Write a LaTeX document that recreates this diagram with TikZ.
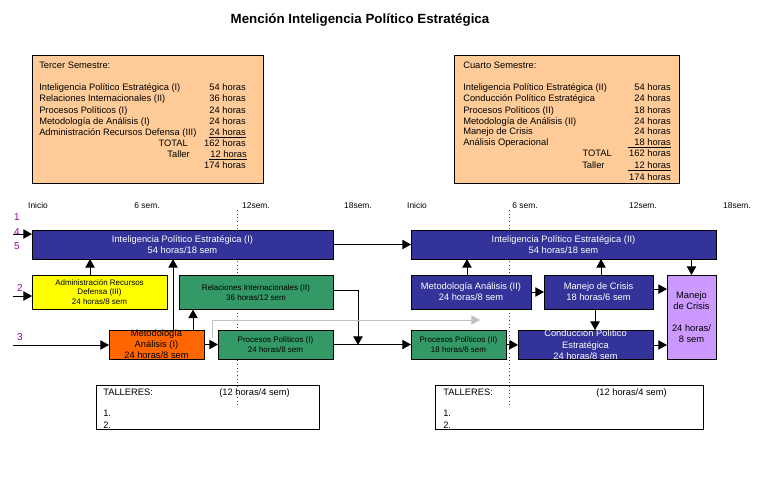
\documentclass[tikz,border=0pt]{standalone}
\usepackage{fontspec}
\setmainfont{Liberation Sans}
\usetikzlibrary{arrows.meta}
\definecolor{navy}{RGB}{51,51,153}
\definecolor{grass}{RGB}{51,153,102}
\definecolor{tangerine}{RGB}{255,102,0}
\definecolor{lemon}{RGB}{255,255,0}
\definecolor{lilac}{RGB}{204,153,255}
\definecolor{peach}{RGB}{255,204,153}
\definecolor{plum}{RGB}{153,0,153}
\definecolor{wine}{RGB}{140,30,90}
\definecolor{silver}{RGB}{192,192,192}

\begin{document}
\begin{tikzpicture}[x=0.75pt,y=-0.75pt,
    box/.style={draw=black,line width=0.75pt,inner sep=0pt,outer sep=0pt,align=center},
    bluebox/.style={box,fill=navy,text=white,font=\fontsize{7}{8.25}\selectfont},
    greenbox/.style={box,fill=grass,font=\fontsize{6}{7.2}\selectfont},
    txt/.style={inner sep=0pt,font=\fontsize{7}{8.25}\selectfont},
    small/.style={inner sep=0pt,anchor=base,font=\fontsize{6.3}{7}\selectfont},
    num/.style={inner sep=0pt,text=plum,font=\fontsize{7.5}{8}\selectfont},
    arr/.style={-{Triangle[length=6.5pt,width=7pt]},line width=0.75pt},
    dotline/.style={wine,line width=0.75pt,dotted}]
    \useasboundingbox (0,0) rectangle (767,479);

    % Title
    \node[inner sep=0pt,font=\bfseries\fontsize{10}{12}\selectfont] (title) at (360,20) {Mención Inteligencia Político Estratégica};

    % Tercer semestre
    \node[box,fill=peach,minimum width=173.25pt,minimum height=96pt] (sem3) at (147.5,119) {};
    \node[txt,anchor=base west] (s3head) at (39,68) {Tercer Semestre:};
    \node[txt,anchor=base west] (s3a) at (39,90) {Inteligencia Político Estratégica (I)};
    \node[txt,anchor=base west] (s3b) at (39,101) {Relaciones Internacionales (II)};
    \node[txt,anchor=base west] (s3c) at (39,113) {Procesos Políticos (I)};
    \node[txt,anchor=base west] (s3d) at (39,124) {Metodología de Análisis (I)};
    \node[txt,anchor=base west] (s3e) at (39,135) {Administración Recursos Defensa (III)};
    \node[txt,anchor=base east] (s3ha) at (246,90) {54 horas};
    \node[txt,anchor=base east] (s3hb) at (246,101) {36 horas};
    \node[txt,anchor=base east] (s3hc) at (246,113) {24 horas};
    \node[txt,anchor=base east] (s3hd) at (246,124) {24 horas};
    \node[txt,anchor=base east] (s3he) at (246,135) {\underline{24 horas}};
    \node[txt,anchor=base east] (s3total) at (188,146) {TOTAL};
    \node[txt,anchor=base east] (s3hf) at (246,146) {162 horas};
    \node[txt,anchor=base east] (s3taller) at (190,157) {Taller};
    \node[txt,anchor=base east] (s3hg) at (247,157) {\underline{\makebox[28.5pt][r]{12 horas}}};
    \node[txt,anchor=base east] (s3hh) at (246,168) {174 horas};

    % Cuarto semestre
    \node[box,fill=peach,minimum width=168.75pt,minimum height=96pt] (sem4) at (566.5,119) {};
    \node[txt,anchor=base west] (s4head) at (463,68) {Cuarto Semestre:};
    \node[txt,anchor=base west] (s4a) at (463,90) {Inteligencia Político Estratégica (II)};
    \node[txt,anchor=base west] (s4b) at (463,101) {Conducción Político Estratégica};
    \node[txt,anchor=base west] (s4c) at (463,113) {Procesos Políticos (II)};
    \node[txt,anchor=base west] (s4d) at (463,124) {Metodología de Análisis (II)};
    \node[txt,anchor=base west] (s4e) at (463,134) {Manejo de Crisis};
    \node[txt,anchor=base west] (s4f) at (463,145) {Análisis Operacional};
    \node[txt,anchor=base east] (s4ha) at (671,90) {54 horas};
    \node[txt,anchor=base east] (s4hb) at (671,101) {24 horas};
    \node[txt,anchor=base east] (s4hc) at (671,113) {18 horas};
    \node[txt,anchor=base east] (s4hd) at (671,124) {24 horas};
    \node[txt,anchor=base east] (s4he) at (671,134) {24 horas};
    \node[txt,anchor=base east] (s4hf) at (671,145) {\underline{\makebox[32.25pt][r]{18 horas}}};
    \node[txt,anchor=base east] (s4total) at (612,156) {TOTAL};
    \node[txt,anchor=base east] (s4hg) at (671,156) {162 horas};
    \node[txt,anchor=base west] (s4taller) at (582,168) {Taller};
    \node[txt,anchor=base east] (s4hh) at (671,168) {\underline{\makebox[32.25pt][r]{12 horas}}};
    \node[txt,anchor=base east] (s4hi) at (671,180) {174 horas};

    % Time scale
    \node[small] (t0a) at (38,208) {Inicio};
    \node[small] (t6a) at (147,208) {6 sem.};
    \node[small] (t12a) at (256,208) {12sem.};
    \node[small] (t18a) at (358,208) {18sem.};
    \node[small] (t0b) at (417,208) {Inicio};
    \node[small] (t6b) at (525,208) {6 sem.};
    \node[small] (t12b) at (643,208) {12sem.};
    \node[small] (t18b) at (737,208) {18sem.};

    \node[num] (n1) at (17,217) {1};
    \node[num] (n4) at (17,232) {4};
    \node[num] (n5) at (17,246) {5};
    \node[num] (n2) at (20,288) {2};
    \node[num] (n3) at (20,337) {3};

    % Talleres
    \node[box,minimum width=167.25pt,minimum height=33pt] (tallerA) at (207.5,407) {};
    \node[txt,anchor=base west] (taA) at (103,395) {TALLERES:};
    \node[txt,anchor=base west] (taAh) at (219,395) {(12 horas/4 sem)};
    \node[txt,anchor=base west] (taA1) at (103,416) {1.};
    \node[txt,anchor=base west] (taA2) at (103,428) {2.};
    \node[box,minimum width=201pt,minimum height=33pt] (tallerB) at (569,407) {};
    \node[txt,anchor=base west] (taB) at (443,395) {TALLERES:};
    \node[txt,anchor=base west] (taBh) at (596,395) {(12 horas/4 sem)};
    \node[txt,anchor=base west] (taB1) at (443,416) {1.};
    \node[txt,anchor=base west] (taB2) at (443,428) {2.};

    % 6 sem. marks
    \coordinate (d1a) at (237,210);
    \coordinate (d1b) at (237,408);
    \coordinate (d2a) at (509,210);
    \coordinate (d2b) at (509,408);
    \draw[dotline] (d1a) -- (d1b);
    \draw[dotline] (d2a) -- (d2b);

    % Third semester courses
    \node[bluebox,minimum width=225.75pt,minimum height=21.75pt] (ipeI) at (182.5,244.5) {Inteligencia Político Estratégica (I)\\54 horas/18 sem};
    \node[box,fill=lemon,font=\fontsize{6}{7.1}\selectfont,minimum width=101.25pt,minimum height=25.5pt] (admin) at (99.5,292) {Administración Recursos\\Defensa (III)\\24 horas/8 sem};
    \node[greenbox,minimum width=115.5pt,minimum height=25.5pt] (relac) at (256,292.5) {Relaciones Internacionales (II)\\36 horas/12 sem};
    \node[box,fill=tangerine,font=\fontsize{7}{8.25}\selectfont,minimum width=71.25pt,minimum height=21.75pt] (metA) at (156.5,344.5) {Metodología\\Análisis (I)\\24 horas/8 sem};
    \node[greenbox,font=\fontsize{6}{7.5}\selectfont,minimum width=86.25pt,minimum height=21.75pt] (procA) at (275.5,344.5) {Procesos Políticos (I)\\24 horas/8 sem};

    % Fourth semester courses
    \node[bluebox,minimum width=228.75pt,minimum height=21.75pt] (ipeII) at (563.5,244.5) {Inteligencia Político Estratégica (II)\\54 horas/18 sem};
    \node[bluebox,minimum width=90pt,minimum height=25.5pt] (metB) at (471,292) {Metodología Análisis (II)\\24 horas/8 sem};
    \node[bluebox,minimum width=81.75pt,minimum height=25.5pt] (manejo) at (598.5,292) {Manejo de Crisis\\18 horas/6 sem};
    \node[box,fill=lilac,font=\fontsize{7}{8.25}\selectfont,minimum width=36.75pt,minimum height=63pt] (crisis) at (691.5,317) {Manejo\\de Crisis\\[8.25pt]24 horas/\\8 sem};
    \node[greenbox,font=\fontsize{6}{7.5}\selectfont,minimum width=71.25pt,minimum height=21.75pt] (procB) at (458.5,344.5) {Procesos Políticos (II)\\18 horas/6 sem};
    \node[bluebox,font=\fontsize{7}{8.6}\selectfont,minimum width=101.25pt,minimum height=21.75pt] (conduc) at (585.5,345) {Conducción Político\\Estratégica\\24 horas/8 sem};

    % Inputs
    \coordinate (in1) at (13,234);
    \coordinate (in2) at (13,296);
    \coordinate (in3) at (13,345);
    \draw[arr] (in1) -- (in1 -| ipeI.west);
    \draw[arr] (in2) -- (in2 -| admin.west);
    \draw[arr] (in3) -- (in3 -| metA.west);

    % Links in third semester
    \draw[arr] ([xshift=-7.1pt]admin.north) -- ([xshift=-7.1pt]admin.north |- ipeI.south);
    \draw[arr] ([xshift=12.4pt]metA.north) -- ([xshift=12.4pt]metA.north |- ipeI.south);
    \draw[arr] ([xshift=27.4pt]metA.north) -- ([xshift=27.4pt]metA.north |- relac.south);
    \draw[arr] (metA.east) -- (procA.west);
    \coordinate (join) at (358,345);
    \draw[arr] ([yshift=1.5pt]relac.east) -| (join);

    % Grey link
    \coordinate (g0) at (212,338);
    \coordinate (g1) at (480,320);
    \draw[silver,line width=0.75pt,-{Triangle[length=6.5pt,width=7pt]}] (g0) |- (g1);

    % Third to fourth semester
    \draw[arr] (ipeI.east) -- (ipeII.west);
    \draw[arr] (procA.east) -- (procB.west);

    % Links in fourth semester
    \draw[arr] ([xshift=-3pt]metB.north) -- ([xshift=-3pt]metB.north |- ipeII.south);
    \draw[arr] ([xshift=1.9pt]manejo.north) -- ([xshift=1.9pt]manejo.north |- ipeII.south);
    \draw[arr] (crisis.north |- ipeII.south) -- (crisis.north);
    \draw[arr] (metB.east) -- (manejo.west);
    \draw[arr] ([yshift=2.2pt]manejo.east) -- ([yshift=2.2pt]manejo.east -| crisis.west);
    \draw[arr] ([xshift=-2.6pt]manejo.south) -- ([xshift=-2.6pt]manejo.south |- conduc.north);
    \draw[arr] (procB.east) -- (conduc.west);
    \draw[arr] (conduc.east) -- (conduc.east -| crisis.west);
\end{tikzpicture}
\end{document}
